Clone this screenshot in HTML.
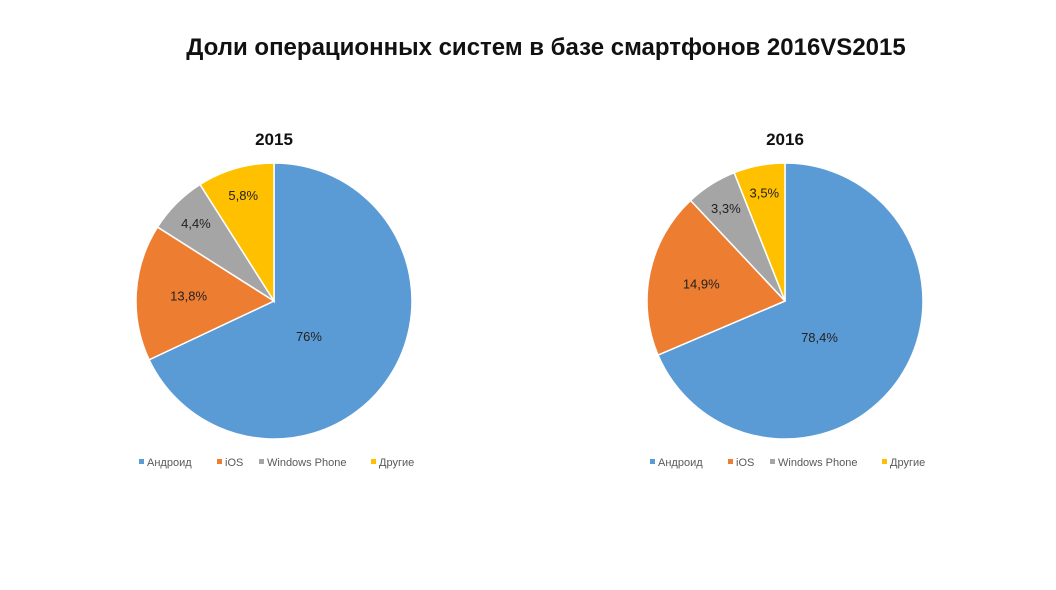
<!DOCTYPE html>
<html><head><meta charset="utf-8"><style>
body{margin:0;background:#fff;width:1056px;height:585px;overflow:hidden;font-family:"Liberation Sans",sans-serif}
</style></head><body>
<svg id="c" width="1056" height="585">
<text x="546" y="55" text-anchor="middle" font-size="24" font-weight="bold" fill="#111">Доли операционных систем в базе смартфонов 2016VS2015</text>
</svg>
<script>
const categories=["Андроид","iOS","Windows Phone","Другие"];
const colors=["#5B9BD5","#ED7D31","#A5A5A5","#FFC000"];
const years=["2015","2016"];
const values2015=[68,16,7,9];
const values2016=[68.6,19.4,6,6];
const labels2015=["76%","13,8%","4,4%","5,8%"];
const labels2016=["78,4%","14,9%","3,3%","3,5%"];
const svg=document.getElementById('c');
const NS="http://www.w3.org/2000/svg";
function mk(t,a){const e=document.createElementNS(NS,t);for(const k in a)e.setAttribute(k,a[k]);svg.appendChild(e);return e;}
function pie(cx,cy,r,vals,labs,year){
  const t=mk('text',{x:cx,y:145,'text-anchor':'middle','font-size':17,'font-weight':'bold',fill:'#111'});
  t.textContent=year;
  
  
  const tot=vals.reduce((a,b)=>a+b,0);let a0=0;
  vals.forEach((v,i)=>{
    const a1=a0+v/tot*2*Math.PI;
    const x0=cx+r*Math.sin(a0),y0=cy-r*Math.cos(a0),x1=cx+r*Math.sin(a1),y1=cy-r*Math.cos(a1);
    const large=(a1-a0)>Math.PI?1:0;
    const p=mk('path',{d:`M${cx},${cy}L${x0},${y0}A${r},${r} 0 ${large} 1 ${x1},${y1}Z`,fill:colors[i],stroke:'#fff','stroke-width':1.5});
    
    
    const m=(a0+a1)/2,fr=v/tot;
    const f=fr>0.5?0.3:(fr<0.1?0.8:0.62);
    const dy=fr>0.5?18:5;
    const l=mk('text',{x:cx+f*r*Math.sin(m),y:cy-f*r*Math.cos(m)+dy,'text-anchor':'middle','font-size':13,fill:'#222'});
    l.textContent=labs[i];
    
    
    a0=a1;
  });
  const lx=[cx-135,cx-57,cx-15,cx+97];
  categories.forEach((c,i)=>{
    const s=mk('rect',{x:lx[i],y:459,width:5,height:5,fill:colors[i]});
    
    
    const tx=mk('text',{x:lx[i]+8,y:466,'font-size':11,fill:'#595959'});
    tx.textContent=c;
    
    
  });
}
pie(274,301,138,values2015,labels2015,years[0]);
pie(785,301,138,values2016,labels2016,years[1]);
</script>
</body></html>
